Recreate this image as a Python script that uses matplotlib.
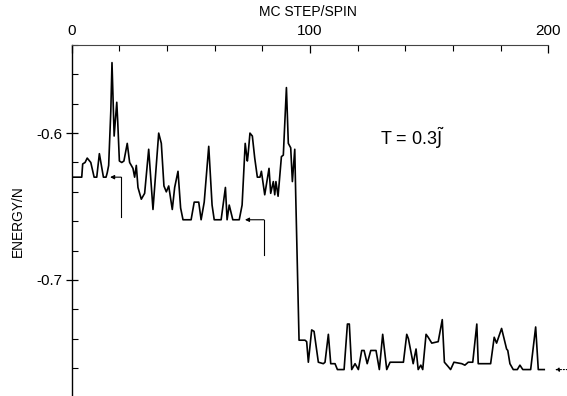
import matplotlib
matplotlib.use("Agg")
import matplotlib.pyplot as plt
from matplotlib.ticker import MultipleLocator, FixedLocator

plt.rcParams['font.family'] = ['Liberation Sans', 'DejaVu Sans']
plt.rcParams['axes.unicode_minus'] = False

# MC step/spin and energy/N
steps = [0, 4.2, 4.6, 5.6, 6.5, 8.0, 9.4, 10.5, 11.6, 13.3,
         14.4, 14.9, 15.5, 16.4, 16.9, 17.8, 18.9, 19.3, 20.0, 21.0,
         21.9, 23.3, 24.3, 25.7, 26.4, 27.1, 27.8, 29.2, 30.6, 32.3,
         34.1, 35.5, 36.5, 37.6, 38.7, 39.7, 40.7, 42.2, 43.2, 44.6,
         45.7, 46.7, 50.1, 51.4, 53.3, 54.3, 55.6, 57.5, 58.9, 59.8,
         62.7, 64.5, 65.2, 66.1, 67.6, 70.3, 71.5, 72.8, 73.7, 74.0,
         74.8, 75.8, 76.8, 77.9, 79.0, 79.6, 81.0, 82.8, 83.5, 84.6,
         85.2, 85.7, 86.6, 88.0, 88.8, 90.1, 90.9, 91.9, 92.6, 93.6,
         94.0, 95.4, 97.9, 98.6, 99.3, 100.7, 101.7, 103.5, 105.6, 106.3,
         107.7, 108.7, 110.5, 111.5, 114.3, 115.7, 116.5, 117.5, 118.9, 120.3,
         121.7, 122.7, 124.0, 125.5, 127.7, 129.1, 130.5, 132.2, 133.6, 139.2,
         140.6, 141.3, 143.3, 144.5, 145.4, 146.5, 147.3, 148.7, 149.6, 151.1,
         153.8, 155.5, 156.4, 158.0, 159.0, 160.4, 163.7, 165.0, 166.4, 168.3,
         170.0, 170.6, 175.8, 177.3, 178.3, 180.4, 182.5, 183.0, 183.9, 185.3,
         187.0, 188.1, 189.3, 192.6, 194.7, 195.8, 198.3]
energy = [-0.630, -0.630, -0.621, -0.620, -0.617, -0.620, -0.630, -0.630, -0.614, -0.630,
          -0.630, -0.627, -0.622, -0.585, -0.552, -0.602, -0.579, -0.592, -0.619, -0.620,
          -0.619, -0.607, -0.620, -0.624, -0.630, -0.622, -0.637, -0.645, -0.641, -0.611,
          -0.652, -0.622, -0.600, -0.607, -0.636, -0.640, -0.636, -0.652, -0.637, -0.626,
          -0.651, -0.659, -0.659, -0.647, -0.647, -0.659, -0.647, -0.609, -0.649, -0.659,
          -0.659, -0.637, -0.659, -0.649, -0.659, -0.659, -0.649, -0.607, -0.619, -0.615,
          -0.600, -0.602, -0.617, -0.630, -0.630, -0.626, -0.642, -0.624, -0.641, -0.633,
          -0.642, -0.633, -0.643, -0.616, -0.615, -0.569, -0.607, -0.610, -0.633, -0.611,
          -0.642, -0.741, -0.741, -0.742, -0.756, -0.734, -0.735, -0.756, -0.757, -0.756,
          -0.737, -0.757, -0.757, -0.761, -0.761, -0.730, -0.730, -0.761, -0.757, -0.761,
          -0.748, -0.748, -0.757, -0.748, -0.748, -0.761, -0.737, -0.761, -0.756, -0.756,
          -0.737, -0.740, -0.757, -0.747, -0.761, -0.758, -0.761, -0.737, -0.739, -0.743,
          -0.742, -0.727, -0.756, -0.759, -0.761, -0.756, -0.757, -0.758, -0.756, -0.756,
          -0.730, -0.757, -0.757, -0.739, -0.743, -0.733, -0.747, -0.748, -0.757, -0.761,
          -0.761, -0.758, -0.761, -0.761, -0.732, -0.761, -0.761]

x_major = [0, 100, 200]
y_major = [-0.6, -0.7]
y_major_labels = ['-0.6', '-0.7']

# annotation brackets (tip, corner, bottom) in data units
arrow1 = dict(tip=(16.1, -0.630), corner=(20.7, -0.630), bottom=-0.657)
arrow2 = dict(tip=(72.7, -0.659), corner=(80.7, -0.659), bottom=-0.683)
arrow3 = dict(tip=(202.8, -0.761), tail=(208.0, -0.761))

fig = plt.figure(figsize=(5.67, 3.96), dpi=100)
ax = fig.add_axes([0.1265, 0.0, 0.8405, 0.8864])
ax.plot(steps, energy, color='black', lw=1.2)

ax.set_xlim(0, 200)
ax.set_ylim(-0.779, -0.54)

for s in ['right', 'bottom']:
    ax.spines[s].set_visible(False)
ax.spines['left'].set_linewidth(1.0)
ax.spines['top'].set_linewidth(0.8)
ax.spines['top'].set_color('#444444')

ax.xaxis.tick_top()
ax.xaxis.set_major_locator(FixedLocator(x_major))
ax.xaxis.set_minor_locator(MultipleLocator(20))
ax.tick_params(axis='x', which='major', direction='in', length=6, width=0.9,
               pad=5, labelsize=11)
ax.tick_params(axis='x', which='minor', direction='in', length=4, width=0.8)

ax.yaxis.set_major_locator(FixedLocator(y_major))
ax.set_yticklabels(y_major_labels)
ax.yaxis.set_minor_locator(MultipleLocator(0.02))
ax.tick_params(axis='y', which='major', direction='inout', length=9, width=0.9,
               pad=2, labelsize=11)
ax.tick_params(axis='y', which='minor', direction='in', length=4, width=0.8)

fig.text(0.543, 0.97, 'MC STEP/SPIN', ha='center', va='center', fontsize=10)
fig.text(0.032, 0.442, 'ENERGY/N', ha='center', va='center', rotation=90, fontsize=9.9)
ax.text(143, -0.6035, r'T = 0.3$\tilde{\mathrm{J}}$', ha='center', va='center', fontsize=13)

for a in (arrow1, arrow2):
    cx, cy = a['corner']
    ax.plot([cx, cx], [a['bottom'], cy], color='black', lw=0.8)
    ax.annotate('', xy=a['tip'], xytext=a['corner'],
                arrowprops=dict(arrowstyle='-|>', lw=0.8, color='black',
                                mutation_scale=6, shrinkA=0, shrinkB=0))
ax.annotate('', xy=arrow3['tip'], xytext=arrow3['tail'], annotation_clip=False,
            arrowprops=dict(arrowstyle='-|>', lw=0.8, color='black', ls=':',
                            mutation_scale=6, shrinkA=0, shrinkB=0))

fig.savefig('out.png', dpi=100)
